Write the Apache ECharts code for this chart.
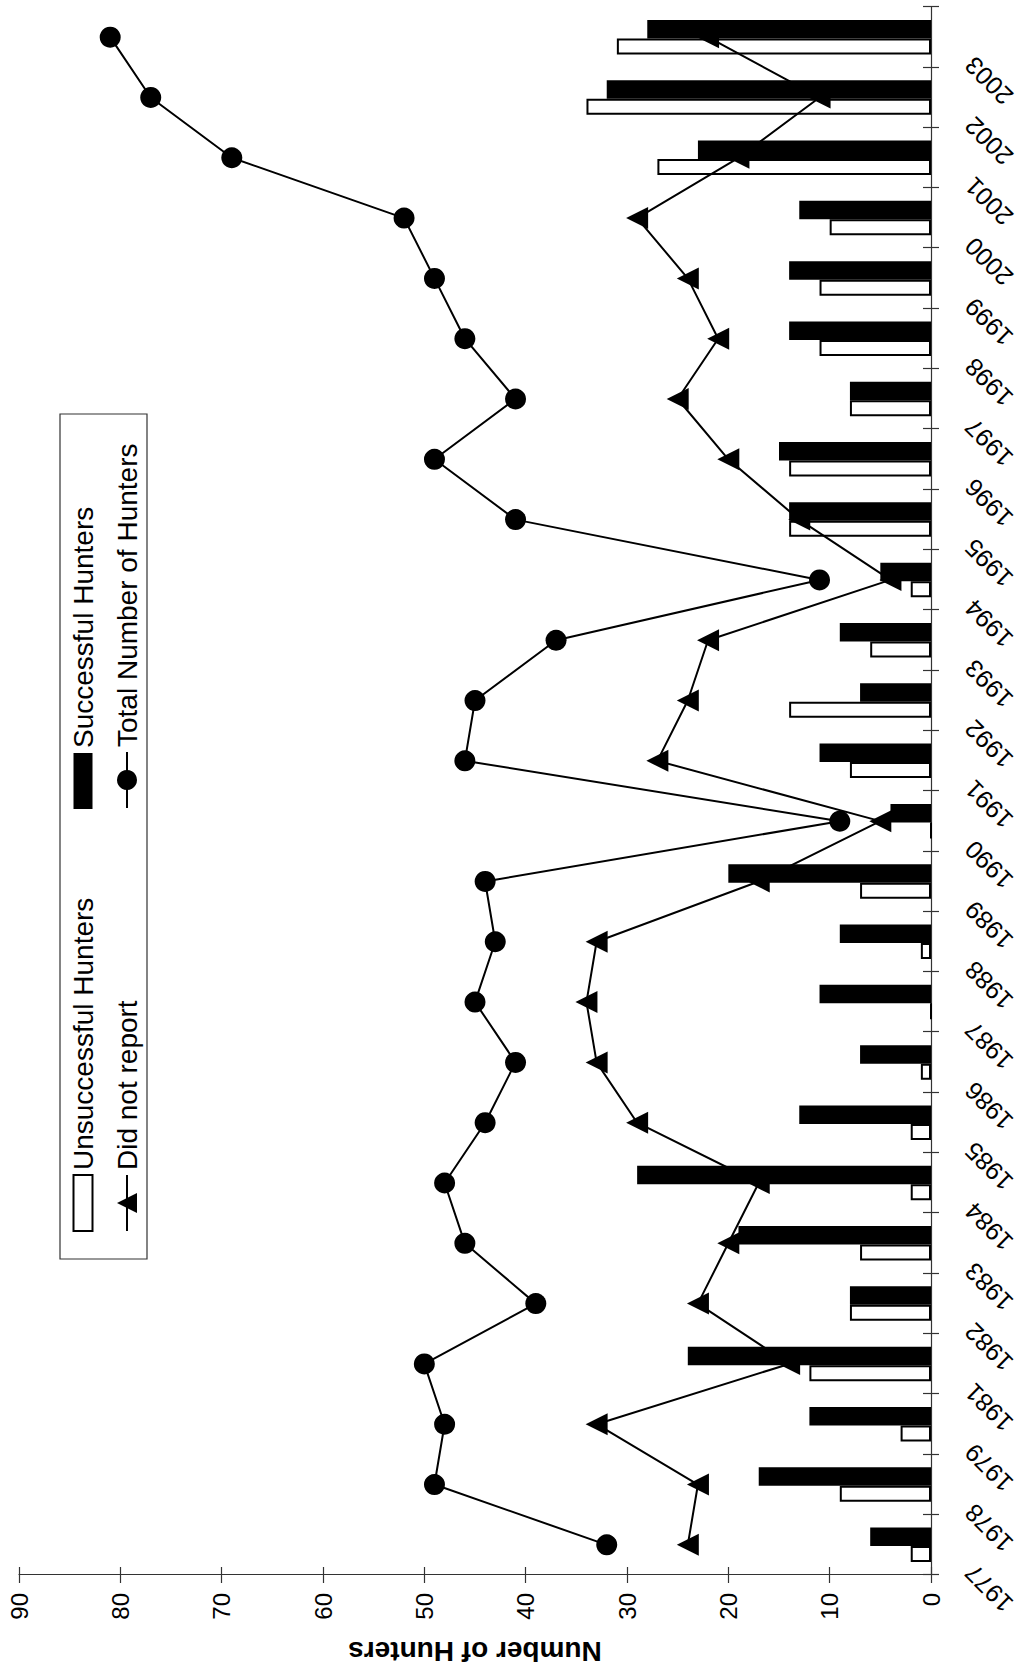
<!DOCTYPE html>
<html>
<head>
<meta charset="utf-8">
<script src="https://cdn.jsdelivr.net/npm/echarts@6/dist/echarts.min.js"></script>
<style>
html,body{margin:0;padding:0;background:#fff;width:1024px;height:1673px;overflow:hidden;}
#chart{position:absolute;left:0;top:0;width:1673px;height:1024px;transform-origin:0 0;transform:translate(0,1673px) rotate(-90deg);}
</style>
</head>
<body>
<div id="chart"></div>
<script>
const years = ['1977','1978','1979','1981','1982','1983','1984','1985','1986','1987','1988','1989','1990','1991','1992','1993','1994','1995','1996','1997','1998','1999','2000','2001','2002','2003'];
const unsuccessful = [2,9,3,12,8,7,2,2,1,0,1,7,0,8,14,6,2,14,14,8,11,11,10,27,34,31];
const successful   = [6,17,12,24,8,19,29,13,7,11,9,20,4,11,7,9,5,14,15,8,14,14,13,23,32,28];
const didNotReport = [24,23,33,14,23,20,17,29,33,34,33,17,5,27,24,22,4,13,20,25,21,24,29,19,11,22];
const totalHunters = [32,49,48,50,39,46,48,44,41,45,43,44,9,46,45,37,11,41,49,41,46,49,52,69,77,81];
const hunterTicks = [0,10,20,30,40,50,60,70,80,90];

const FONT = 'Liberation Sans, Arial, Helvetica, sans-serif';
const chart = echarts.init(document.getElementById('chart'), null, {renderer: 'svg', width: 1673, height: 1024});

const axisLineStyle = {color: '#333', width: 1.2};
const legendText = {fontFamily: FONT, fontSize: 28, color: '#000', lineHeight: 28};

function oneLegend(name, left, centerY, itemH, icon) {
  const item = icon ? {name: name, icon: icon} : {name: name};
  return {
    data: [item], orient: 'vertical', left: left, top: centerY - 14,
    padding: 0, itemWidth: 56, itemHeight: itemH, textStyle: legendText,
    selectedMode: false
  };
}

chart.setOption({
  animation: false,
  backgroundColor: '#fff',
  textStyle: {fontFamily: FONT},
  grid: {left: 97, right: 7, top: 19, bottom: 93, containLabel: false},
  graphic: [{
    type: 'rect', shape: {x: 414, y: 60, width: 845, height: 87},
    style: {fill: 'none', stroke: '#333', lineWidth: 1.2}, silent: true
  }],
  legend: [
    oneLegend('Unsuccessful Hunters', 441, 83, 19, 'rect'),
    oneLegend('Did not report', 441, 127, 25),
    oneLegend('Successful Hunters', 864, 83, 19, 'rect'),
    oneLegend('Total Number of Hunters', 864, 127, 25)
  ],
  xAxis: [{
    type: 'category', data: years, position: 'bottom', boundaryGap: true,
    axisLine: {show: true, lineStyle: axisLineStyle},
    axisTick: {show: true, inside: false, length: 8, alignWithLabel: false, lineStyle: axisLineStyle},
    axisLabel: {show: true, rotate: 45, interval: 0, margin: 14, padding: [0, 34, 0, 0],
      fontFamily: FONT, fontSize: 25, color: '#000'},
    splitLine: {show: false}
  }, {
    type: 'category', data: years, position: 'bottom', offset: 0, boundaryGap: true,
    axisLine: {show: false},
    axisTick: {show: true, inside: true, length: 8, alignWithLabel: false, lineStyle: axisLineStyle},
    axisLabel: {show: false}, splitLine: {show: false}
  }],
  yAxis: [{
    type: 'value', position: 'left',
    min: hunterTicks[0], max: hunterTicks[hunterTicks.length - 1], interval: hunterTicks[1] - hunterTicks[0],
    name: 'Number of Hunters', nameLocation: 'middle', nameRotate: 90, nameGap: 62,
    nameTextStyle: {fontFamily: FONT, fontSize: 28, fontWeight: 'bold', color: '#000'},
    axisLine: {show: true, lineStyle: axisLineStyle},
    axisTick: {show: true, inside: false, length: 8, lineStyle: axisLineStyle},
    axisLabel: {show: true, margin: 18, fontFamily: FONT, fontSize: 24, color: '#000'},
    splitLine: {show: false}
  }, {
    type: 'value', position: 'left', offset: 0,
    min: hunterTicks[0], max: hunterTicks[hunterTicks.length - 1], interval: hunterTicks[1] - hunterTicks[0],
    axisLine: {show: false},
    axisTick: {show: true, inside: true, length: 8, lineStyle: axisLineStyle},
    axisLabel: {show: false}, splitLine: {show: false}
  }],
  series: [{
    name: 'Unsuccessful Hunters', type: 'bar', data: unsuccessful,
    barWidth: 16, barGap: '0%',
    itemStyle: {color: '#fff', borderColor: '#000', borderWidth: 2}
  }, {
    name: 'Successful Hunters', type: 'bar', data: successful,
    barWidth: 18.5, barGap: '0%',
    itemStyle: {color: '#000'}
  }, {
    name: 'Did not report', type: 'line', data: didNotReport,
    symbol: 'triangle', symbolSize: 22, showAllSymbol: true,
    lineStyle: {color: '#000', width: 2}, itemStyle: {color: '#000'}
  }, {
    name: 'Total Number of Hunters', type: 'line', data: totalHunters,
    symbol: 'circle', symbolSize: 21, showAllSymbol: true,
    lineStyle: {color: '#000', width: 2}, itemStyle: {color: '#000'}
  }]
});
</script>
</body>
</html>
